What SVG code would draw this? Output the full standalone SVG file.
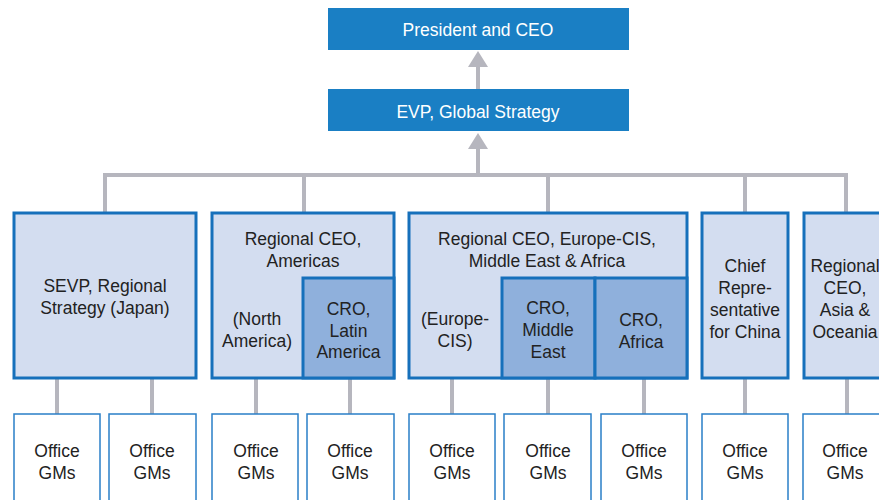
<svg xmlns="http://www.w3.org/2000/svg" width="879" height="500" viewBox="0 0 879 500">
<defs>
<style>
.t{font-family:"Liberation Sans",Arial,sans-serif;font-size:17.5px;fill:#222;text-anchor:middle}
.w{fill:#fff}
.top{fill:#1a7fc4}
.reg{fill:#d3ddf0;stroke:#1670bb;stroke-width:3}
.sub{fill:#8fb0dc;stroke:#1670bb;stroke-width:3}
.off{fill:#fff;stroke:#2a7fc8;stroke-width:1.5}
.c{fill:none;stroke:#b6b6be;stroke-width:4}
</style>
<marker id="ah" markerUnits="userSpaceOnUse" markerWidth="16" markerHeight="20" viewBox="0 0 16 20" refX="0" refY="10" orient="auto">
<path d="M0,0 L16,10 L0,20 z" fill="#b6b6be"/>
</marker>
</defs>
<g id="connectors">
<line class="c" x1="478" y1="89" x2="478" y2="67" marker-end="url(#ah)"/>
<line class="c" x1="478" y1="177" x2="478" y2="149" marker-end="url(#ah)"/>
<path class="c" d="M105,213 V175 H846 V213"/>
<line class="c" x1="304" y1="175" x2="304" y2="213"/>
<line class="c" x1="548" y1="175" x2="548" y2="213"/>
<line class="c" x1="745" y1="175" x2="745" y2="213"/>
<line class="c" x1="57" y1="378" x2="57" y2="414"/>
<line class="c" x1="152" y1="378" x2="152" y2="414"/>
<line class="c" x1="256" y1="378" x2="256" y2="414"/>
<line class="c" x1="350" y1="378" x2="350" y2="414"/>
<line class="c" x1="452" y1="378" x2="452" y2="414"/>
<line class="c" x1="548" y1="378" x2="548" y2="414"/>
<line class="c" x1="644" y1="378" x2="644" y2="414"/>
<line class="c" x1="745" y1="378" x2="745" y2="414"/>
<line class="c" x1="847" y1="378" x2="847" y2="414"/>
</g>
<g id="president">
<rect class="top" x="328" y="8" width="301" height="42"/>
<text class="t w" x="478" y="36">President and CEO</text>
</g>
<g id="evp">
<rect class="top" x="328" y="89" width="301" height="42"/>
<text class="t w" x="478" y="118">EVP, Global Strategy</text>
</g>
<g id="sevp">
<rect class="reg" x="14" y="213" width="182" height="165"/>
<text class="t" x="105" y="292">SEVP, Regional</text>
<text class="t" x="105" y="314">Strategy (Japan)</text>
</g>
<g id="americas">
<rect class="reg" x="212" y="213" width="182" height="165"/>
<text class="t" x="303" y="245">Regional CEO,</text>
<text class="t" x="303" y="267">Americas</text>
<text class="t" x="257" y="325">(North</text>
<text class="t" x="257" y="347">America)</text>
</g>
<g id="cro-latin-america">
<rect class="sub" x="303" y="278" width="91" height="100"/>
<text class="t" x="348.5" y="315">CRO,</text>
<text class="t" x="348.5" y="337">Latin</text>
<text class="t" x="348.5" y="358">America</text>
</g>
<g id="europe">
<rect class="reg" x="409" y="213" width="278" height="165"/>
<text class="t" x="547" y="245">Regional CEO, Europe-CIS,</text>
<text class="t" x="547" y="267">Middle East &amp; Africa</text>
<text class="t" x="455" y="325">(Europe-</text>
<text class="t" x="455" y="347">CIS)</text>
</g>
<g id="cro-middle-east">
<rect class="sub" x="502" y="278" width="93" height="100"/>
<text class="t" x="548" y="314">CRO,</text>
<text class="t" x="548" y="336">Middle</text>
<text class="t" x="548" y="358">East</text>
</g>
<g id="cro-africa">
<rect class="sub" x="595" y="278" width="92" height="100"/>
<text class="t" x="641" y="326">CRO,</text>
<text class="t" x="641" y="348">Africa</text>
</g>
<g id="china">
<rect class="reg" x="702" y="213" width="86" height="165"/>
<text class="t" x="745" y="272">Chief</text>
<text class="t" x="745" y="294">Repre-</text>
<text class="t" x="745" y="316">sentative</text>
<text class="t" x="745" y="338">for China</text>
</g>
<g id="asia">
<rect class="reg" x="804" y="213" width="90" height="165"/>
<text class="t" x="845" y="272">Regional</text>
<text class="t" x="845" y="294">CEO,</text>
<text class="t" x="845" y="316">Asia &amp;</text>
<text class="t" x="845" y="338">Oceania</text>
</g>
<g id="office1"><rect class="off" x="14" y="414" width="86" height="100"/><text class="t" x="57" y="457">Office</text><text class="t" x="57" y="479">GMs</text></g>
<g id="office2"><rect class="off" x="109" y="414" width="87" height="100"/><text class="t" x="152" y="457">Office</text><text class="t" x="152" y="479">GMs</text></g>
<g id="office3"><rect class="off" x="212" y="414" width="86" height="100"/><text class="t" x="256" y="457">Office</text><text class="t" x="256" y="479">GMs</text></g>
<g id="office4"><rect class="off" x="307" y="414" width="87" height="100"/><text class="t" x="350" y="457">Office</text><text class="t" x="350" y="479">GMs</text></g>
<g id="office5"><rect class="off" x="409" y="414" width="86" height="100"/><text class="t" x="452" y="457">Office</text><text class="t" x="452" y="479">GMs</text></g>
<g id="office6"><rect class="off" x="504" y="414" width="87" height="100"/><text class="t" x="548" y="457">Office</text><text class="t" x="548" y="479">GMs</text></g>
<g id="office7"><rect class="off" x="601" y="414" width="86" height="100"/><text class="t" x="644" y="457">Office</text><text class="t" x="644" y="479">GMs</text></g>
<g id="office8"><rect class="off" x="702" y="414" width="86" height="100"/><text class="t" x="745" y="457">Office</text><text class="t" x="745" y="479">GMs</text></g>
<g id="office9"><rect class="off" x="803" y="414" width="90" height="100"/><text class="t" x="845" y="457">Office</text><text class="t" x="845" y="479">GMs</text></g>
</svg>
